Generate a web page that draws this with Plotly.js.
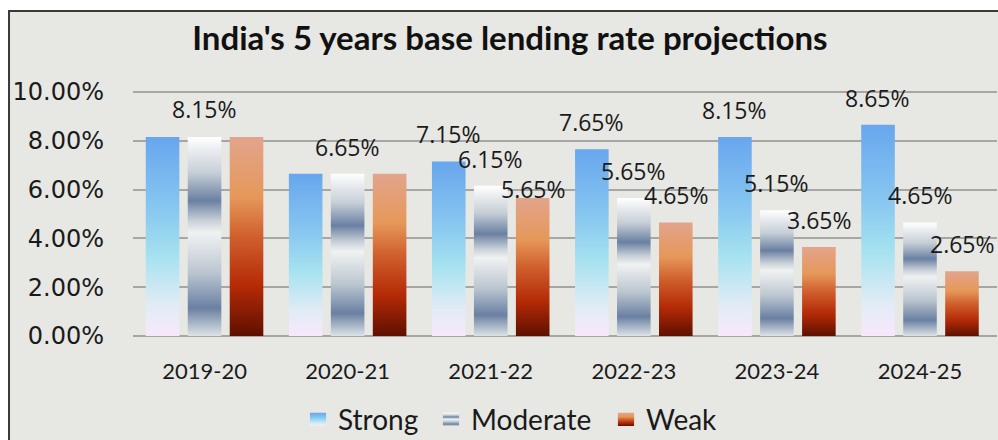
<!DOCTYPE html>
<html>
<head>
<meta charset="utf-8">
<script src="https://cdn.plot.ly/plotly-3.0.1.min.js"></script>
<style>
  html, body { margin: 0; padding: 0; background: #ffffff; }
  #chart { width: 998px; height: 440px; }
</style>
</head>
<body>
<div id="chart"></div>
<svg width="0" height="0" style="position:absolute">
  <defs>
    <linearGradient id="gStrong" x1="0" y1="0" x2="0" y2="1">
      <stop offset="0" stop-color="#68A6EE"/>
      <stop offset="0.35" stop-color="#86C6F0"/>
      <stop offset="0.6" stop-color="#A6E2F0"/>
      <stop offset="0.85" stop-color="#E2ECF6"/>
      <stop offset="1" stop-color="#F8E8FC"/>
    </linearGradient>
    <linearGradient id="gModerate" x1="0" y1="0" x2="0" y2="1">
      <stop offset="0" stop-color="#FFFFFF"/>
      <stop offset="0.18" stop-color="#C6CED6"/>
      <stop offset="0.32" stop-color="#6A80A2"/>
      <stop offset="0.42" stop-color="#C8D0D8"/>
      <stop offset="0.48" stop-color="#F0F2F2"/>
      <stop offset="0.68" stop-color="#BCC6D0"/>
      <stop offset="0.86" stop-color="#6A80A2"/>
      <stop offset="1" stop-color="#DDE3E6"/>
    </linearGradient>
    <linearGradient id="gWeak" x1="0" y1="0" x2="0" y2="1">
      <stop offset="0" stop-color="#E2A48C"/>
      <stop offset="0.3" stop-color="#E6985A"/>
      <stop offset="0.5" stop-color="#D0602E"/>
      <stop offset="0.75" stop-color="#B42A06"/>
      <stop offset="1" stop-color="#5E1000"/>
    </linearGradient>
  </defs>
</svg>
<script>
// ---- data ----
const categories = ['2019-20', '2020-21', '2021-22', '2022-23', '2023-24', '2024-25'];
const strongValues   = [8.15, 6.65, 7.15, 7.65, 8.15, 8.65];
const moderateValues = [8.15, 6.65, 6.15, 5.65, 5.15, 4.65];
const weakValues     = [8.15, 6.65, 5.65, 4.65, 3.65, 2.65];
const seriesNames = ['Strong', 'Moderate', 'Weak'];
// which data labels are visible in the reference
const strongShowLabel   = [false, false, true, true, true, true];
const moderateShowLabel = [true, true, true, true, true, true];
const weakShowLabel     = [false, false, true, true, true, true];
const yTickValues = [0, 2, 4, 6, 8, 10];

// ---- style ----
const solidColors = ['#86C6F0', '#8A9CB6', '#C8501E'];
const gradIds = ['gStrong', 'gModerate', 'gWeak'];
const slotPx = 42.5;
const labelLift = [[27,27,27,27,27,27],[28,27,27,27,27,27],[27,27,9,27,27,27]];
const legendTextLeft = [338, 471, 646];
const textColor = '#1a1a1a';

const allValues = [strongValues, moderateValues, weakValues];
const allShow = [strongShowLabel, moderateShowLabel, weakShowLabel];

const traces = allValues.map((vals, i) => ({
  type: 'bar',
  name: seriesNames[i],
  x: categories,
  y: vals,
  marker: { color: solidColors[i], line: { width: 0 } },
  hoverinfo: 'skip'
}));

const annotations = [];
allValues.forEach((vals, i) => {
  vals.forEach((v, j) => {
    if (!allShow[i][j]) return;
    annotations.push({
      x: categories[j], y: v, xref: 'x', yref: 'y',
      text: v.toFixed(2) + '%',
      showarrow: false,
      xshift: (i - 1) * slotPx,
      yshift: labelLift[i][j],
      xanchor: 'center', yanchor: 'middle',
      font: { family: 'Open Sans', size: 23, color: textColor }
    });
  });
});

const layout = {
  width: 998, height: 440,
  margin: { l: 133, r: 1, t: 87, b: 104 },
  paper_bgcolor: '#ffffff',
  plot_bgcolor: 'rgba(0,0,0,0)',
  barmode: 'group',
  bargap: 0.12,
  bargroupgap: 0.2,
  title: {
    text: "<b>India's 5 years base lending rate projections</b>",
    x: 0.511, xanchor: 'center', xref: 'container',
    y: 0.912, yanchor: 'middle', yref: 'container',
    font: { family: 'Lato', size: 33, color: '#111111' }
  },
  xaxis: {
    type: 'category',
    tickfont: { family: 'Lato', size: 22, color: textColor },
    showgrid: false, showline: false, ticks: '',
    ticklabelstandoff: 20
  },
  yaxis: {
    range: [0, 10.2],
    tickvals: yTickValues,
    ticktext: yTickValues.map(v => v.toFixed(2) + '%'),
    tickfont: { family: 'DejaVu Sans', size: 24, color: textColor },
    showgrid: true, gridcolor: '#A6A6A4', gridwidth: 2,
    zeroline: true, zerolinecolor: '#A6A6A4', zerolinewidth: 2,
    showline: false, ticks: '',
    ticklabelstandoff: 28
  },
  showlegend: true,
  legend: {
    orientation: 'h',
    xref: 'container', yref: 'container',
    x: 0.514, xanchor: 'center',
    y: 0.046, yanchor: 'middle',
    font: { family: 'Lato', size: 28, color: textColor },
    bgcolor: 'rgba(0,0,0,0)',
    itemclick: false
  },
  annotations: annotations,
  shapes: [{
    type: 'rect', xref: 'paper', yref: 'paper', layer: 'below',
    x0: -0.1435, x1: 1.004, y0: -0.5, y1: 1.305,
    fillcolor: '#E7E7E3',
    line: { color: '#3a3a3a', width: 2 }
  }]
};

Plotly.newPlot('chart', traces, layout, { displayModeBar: false, staticPlot: true }).then(gd => {
  const barTraces = gd.querySelectorAll('.barlayer .trace.bars');
  barTraces.forEach((t, i) => {
    t.querySelectorAll('.point path').forEach(p => { p.style.fill = 'url(#' + gradIds[i] + ')'; });
  });
  const legendItems = gd.querySelectorAll('.legend .traces');
  legendItems.forEach((t, i) => {
    t.querySelectorAll('.legendpoints path').forEach(p => {
      p.style.fill = 'url(#' + gradIds[i] + ')';
      const tr = p.getAttribute('transform') || '';
      p.setAttribute('transform', tr + ' scale(1.35,1.1)');
    });
    // align legend entries with the reference spacing
    const txt = t.querySelector('.legendtext');
    if (txt) {
      const left = txt.getBoundingClientRect().left;
      const delta = legendTextLeft[i] - left;
      const m = (t.getAttribute('transform') || '').match(/translate\(\s*([-\d.]+)[ ,]+([-\d.]+)\s*\)/);
      if (m) {
        t.setAttribute('transform', 'translate(' + (parseFloat(m[1]) + delta) + ',' + m[2] + ')');
      }
    }
  });
});
</script>
</body>
</html>
